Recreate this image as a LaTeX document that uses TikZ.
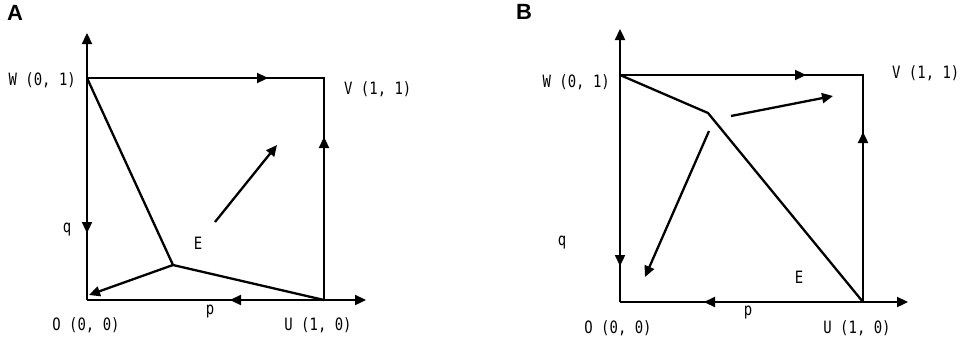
\documentclass[tikz,border=0pt]{standalone}
\usepackage{fontspec}
\newfontfamily\lblfont[FakeStretch=0.82]{DejaVu Sans Mono}
\newfontfamily\panelfont{Liberation Sans}
\usetikzlibrary{arrows.meta}
\tikzset{
  ln/.style={line width=2.3pt, black},
  ar/.style={ln, -{Triangle[length=11pt,width=10pt]}},
  lbl/.style={font=\lblfont\fontsize{17}{18}\selectfont, inner sep=0pt},
  pnl/.style={font=\panelfont\bfseries\fontsize{22}{23}\selectfont, inner sep=0pt}
}
\begin{document}
\begin{tikzpicture}[x=1pt,y=-1pt]
\useasboundingbox (0,0) rectangle (969,340);
% ---------- Panel A ----------
\node[pnl] (pA) at (15,13) {A};
\coordinate (aO) at (87,300);
\coordinate (aW) at (87,78);
\coordinate (aV) at (324,78);
\coordinate (aU) at (324,300);
\coordinate (aT) at (87,33);
\coordinate (aP) at (366,300);
\coordinate (aParr) at (230,300);
\coordinate (aQarr) at (87,233);
\coordinate (aVarr) at (324,137);
\coordinate (aHarr) at (268,78);
\coordinate (aK) at (173,265);
\coordinate (aOt) at (89,295);
\coordinate (aE1) at (215,222);
\coordinate (aE2) at (277,145);
\draw[ar] (aO) -- (aT);
\draw[ar] (aW) -- (aQarr);
\draw[ar] (aO) -- (aP);
\draw[ar] (aU) -- (aParr);
\draw[ln] (aW) -- (aV) -- (aU);
\draw[ar] (aW) -- (aHarr);
\draw[ar] (aU) -- (aVarr);
\draw[ln] (aW) -- (aK) -- (aU);
\draw[ar] (aK) -- (aOt);
\draw[ar] (aE1) -- (aE2);
\node[lbl, anchor=east] (aWl) at (76,80) {W (0, 1)};
\node[lbl, anchor=west] (aVl) at (344,89) {V (1, 1)};
\node[lbl] (aOl) at (86,325) {O (0, 0)};
\node[lbl] (aUl) at (318,325) {U (1, 0)};
\node[lbl] (aq) at (67,230) {q};
\node[lbl] (ap) at (210,312) {p};
\node[lbl] (aEl) at (198,243) {E};
% ---------- Panel B ----------
\node[pnl] (pB) at (524,12) {B};
\coordinate (bO) at (620,302);
\coordinate (bW) at (620,75);
\coordinate (bV) at (863,75);
\coordinate (bU) at (863,302);
\coordinate (bT) at (620,29);
\coordinate (bP) at (908,302);
\coordinate (bParr) at (704,302);
\coordinate (bQarr) at (620,266);
\coordinate (bVarr) at (863,132);
\coordinate (bHarr) at (806,75);
\coordinate (bK) at (708,113);
\coordinate (bR1) at (731,116);
\coordinate (bR2) at (833,96);
\coordinate (bL1) at (709,131);
\coordinate (bL2) at (645,277);
\draw[ar] (bO) -- (bT);
\draw[ar] (bW) -- (bQarr);
\draw[ar] (bO) -- (bP);
\draw[ar] (bU) -- (bParr);
\draw[ln] (bW) -- (bV) -- (bU);
\draw[ar] (bW) -- (bHarr);
\draw[ar] (bU) -- (bVarr);
\draw[ln] (bW) -- (bK) -- (bU);
\draw[ar] (bR1) -- (bR2);
\draw[ar] (bL1) -- (bL2);
\node[lbl, anchor=east] (bWl) at (610,82) {W (0, 1)};
\node[lbl, anchor=west] (bVl) at (892,73) {V (1, 1)};
\node[lbl] (bOl) at (618,328) {O (0, 0)};
\node[lbl] (bUl) at (857,328) {U (1, 0)};
\node[lbl] (bq) at (562,243) {q};
\node[lbl] (bp) at (748,313) {p};
\node[lbl] (bEl) at (799,277) {E};
\end{tikzpicture}
\end{document}
